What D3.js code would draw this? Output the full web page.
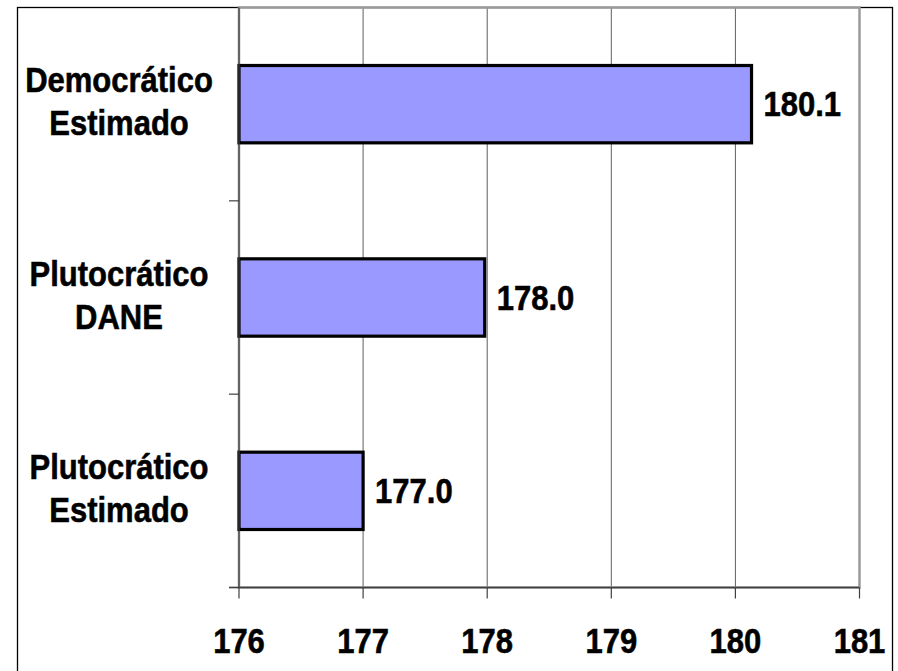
<!DOCTYPE html>
<html>
<head>
<meta charset="utf-8">
<script src="https://cdn.jsdelivr.net/npm/d3@7"></script>
<style>
  html, body { margin: 0; padding: 0; background: #fff; }
  svg { display: block; }
  text { font-family: "Liberation Sans", Arial, sans-serif; font-weight: bold; fill: #000; stroke: #000; stroke-width: 0.5px; }
</style>
</head>
<body>
<svg id="chart" width="898" height="671"></svg>
<script>
// Data (top to bottom)
const categories = [["Democrático", "Estimado"], ["Plutocrático", "DANE"], ["Plutocrático", "Estimado"]];
const values = [180.13, 177.98, 177.0];
const xTicks = [176, 177, 178, 179, 180, 181];
const xDomain = [176, 181];

const svg = d3.select("#chart");
const plot = { left: 239, right: 859.5, top: 7.5, bottom: 587.5 };
const SY = 1.13; // vertical stretch of text glyphs

const x = d3.scaleLinear().domain(xDomain).range([plot.left, plot.right]);
const y = d3.scaleBand().domain(d3.range(categories.length))
  .range([plot.top, plot.bottom]).paddingInner(0.6).paddingOuter(0.3);

// outer border
svg.append("rect").attr("x", 17.5).attr("y", 7.5).attr("width", 875).attr("height", 670)
  .attr("fill", "none").attr("stroke", "#000").attr("stroke-width", 1.3);

// gridlines
svg.append("g").selectAll("line").data(xTicks.slice(1, -1)).join("line")
  .attr("x1", d => x(d)).attr("x2", d => x(d))
  .attr("y1", plot.top).attr("y2", plot.bottom)
  .attr("stroke", "#5e5e5e").attr("stroke-width", 1);

// plot area border
svg.append("rect").attr("x", plot.left).attr("y", plot.top)
  .attr("width", plot.right - plot.left).attr("height", plot.bottom - plot.top)
  .attr("fill", "none").attr("stroke", "#9a9a9a").attr("stroke-width", 2.5);

// bars
svg.append("g").selectAll("rect").data(values).join("rect")
  .attr("x", x(xDomain[0]))
  .attr("y", (d, i) => y(i))
  .attr("width", d => x(d) - x(xDomain[0]))
  .attr("height", y.bandwidth())
  .attr("fill", "#9999ff").attr("stroke", "#000").attr("stroke-width", 3.2);

// axes lines
svg.append("line").attr("x1", plot.left).attr("x2", plot.left)
  .attr("y1", plot.top).attr("y2", plot.bottom)
  .attr("stroke", "#404040").attr("stroke-width", 1.2);
svg.append("line").attr("x1", plot.left - 10).attr("x2", plot.right)
  .attr("y1", plot.bottom).attr("y2", plot.bottom)
  .attr("stroke", "#404040").attr("stroke-width", 1.5);

// x ticks
svg.append("g").selectAll("line").data(xTicks).join("line")
  .attr("x1", d => x(d)).attr("x2", d => x(d))
  .attr("y1", plot.bottom).attr("y2", plot.bottom + 11)
  .attr("stroke", "#404040").attr("stroke-width", 1.2);

// y ticks at category boundaries
const yTickPos = d3.range(categories.length + 1).map(i => plot.top + i * (plot.bottom - plot.top) / categories.length);
svg.append("g").selectAll("line").data(yTickPos.slice(1)).join("line")
  .attr("x1", plot.left - 10).attr("x2", plot.left)
  .attr("y1", d => d).attr("y2", d => d)
  .attr("stroke", "#404040").attr("stroke-width", 1.2);

function stretchedText(g, tx, ty, str, anchor) {
  g.append("g").attr("transform", `translate(${tx},${ty}) scale(1,${SY})`)
    .append("text").attr("x", 0).attr("y", 0)
    .attr("text-anchor", anchor).attr("font-size", 31).text(str);
}

// x tick labels
const xl = svg.append("g");
xTicks.forEach(t => stretchedText(xl, x(t), 653, String(t), "middle"));

// value labels
const vl = svg.append("g");
values.forEach((v, i) => {
  const cy = y(i) + y.bandwidth() / 2;
  stretchedText(vl, x(v) + 12, cy + 12, v.toFixed(1), "start");
});

// category labels
const cl = svg.append("g");
categories.forEach((lines, i) => {
  const cy = y(i) + y.bandwidth() / 2;
  stretchedText(cl, 119, cy - 12, lines[0], "middle");
  stretchedText(cl, 119, cy + 31, lines[1], "middle");
});
</script>
</body>
</html>
